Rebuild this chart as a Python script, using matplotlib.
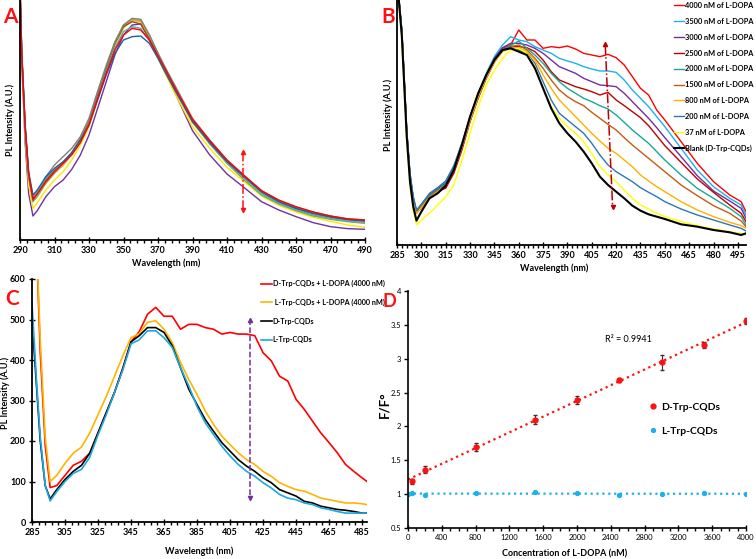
import numpy as np
import matplotlib
matplotlib.use("Agg")
import matplotlib.pyplot as plt
from matplotlib.ticker import MultipleLocator

plt.rcParams['font.family'] = ['Lato', 'DejaVu Sans']

# ---------------- Panel A: D-Trp-CQDs + interferents (arbitrary units) ----------------
wl_a = [290, 291, 293, 295, 297.5, 300, 305, 310, 315, 320, 325, 330, 335, 340, 345, 350,
        355, 360, 365, 370, 375, 380, 390, 400, 410, 420, 430, 440, 450, 460, 470, 480, 490]
a_purple = [760, 530, 290, 140, 72, 88, 130, 160, 180, 212, 255, 315, 395, 475, 555, 615,
            645, 648, 605, 550, 495, 440, 328, 255, 198, 157, 115, 90, 70, 52, 40, 34, 32]
a_yellow = [760, 540, 310, 165, 95, 112, 150, 180, 205, 240, 285, 340, 420, 505, 580, 635,
            660, 655, 600, 545, 490, 438, 340, 275, 218, 175, 132, 104, 84, 68, 56, 45, 38]
a_green = [760, 555, 330, 190, 115, 130, 170, 200, 225, 258, 305, 360, 445, 525, 595, 645,
           660, 660, 615, 560, 505, 455, 355, 288, 230, 180, 135, 108, 88, 72, 62, 55, 50]
a_orange = [760, 555, 330, 188, 125, 138, 175, 205, 225, 262, 305, 360, 440, 518, 588, 638,
            660, 655, 605, 552, 500, 450, 352, 290, 232, 186, 142, 112, 92, 78, 66, 58, 52]
a_brown = [760, 560, 335, 195, 125, 140, 180, 210, 232, 262, 300, 352, 435, 515, 590, 640,
           655, 648, 602, 552, 505, 455, 360, 295, 235, 188, 145, 116, 95, 80, 68, 60, 56]
a_gray = [760, 560, 335, 195, 118, 140, 190, 225, 250, 275, 310, 365, 445, 520, 590, 645,
          665, 662, 615, 560, 510, 462, 365, 300, 240, 193, 148, 118, 98, 84, 72, 64, 60]
a_teal = [760, 565, 340, 198, 130, 146, 185, 212, 232, 260, 298, 348, 428, 505, 575, 625,
          640, 635, 598, 548, 498, 450, 356, 290, 232, 186, 140, 110, 90, 75, 65, 57, 53]
a_blue = [760, 570, 345, 205, 135, 150, 190, 215, 235, 262, 300, 345, 420, 495, 560, 600,
          610, 612, 590, 545, 495, 448, 355, 292, 235, 190, 145, 115, 95, 80, 70, 62, 58]
a_red = [760, 560, 340, 200, 122, 138, 175, 205, 230, 255, 292, 345, 425, 500, 570, 615,
         635, 630, 600, 552, 505, 455, 362, 298, 240, 193, 148, 120, 100, 84, 72, 63, 60]
a_series = [a_purple, a_yellow, a_green, a_orange, a_brown, a_gray, a_teal, a_blue, a_red]
a_colors = ['#7030A0', '#FFE600', '#70AD47', '#F0A030', '#9E480E', '#7F7F7F', '#4BACC6',
            '#1F5F9F', '#FF0000']

# ---------------- Panel B: D-Trp-CQDs with L-DOPA ----------------
wl_b = [285, 288, 291, 293, 295, 297, 300, 305, 310, 315, 320, 325, 330, 335, 340, 345,
        350, 355, 360, 365, 370, 375, 380, 385, 390, 395, 400, 405, 410, 415, 420, 425,
        430, 435, 440, 445, 450, 460, 470, 480, 490, 497, 500]
b4000 = [800, 640, 340, 210, 140, 100, 118, 150, 165, 170, 220, 295, 380, 450, 510, 560,
         590, 600, 645, 615, 615, 590, 595, 592, 597, 588, 575, 570, 565, 572, 562, 540,
         505, 470, 450, 405, 375, 310, 245, 190, 150, 130, 100]
b3500 = [800, 645, 345, 215, 145, 105, 122, 152, 170, 190, 235, 305, 385, 455, 515, 565,
         600, 625, 615, 610, 595, 585, 575, 560, 552, 545, 535, 528, 522, 522, 518, 495,
         465, 440, 415, 385, 355, 290, 225, 175, 140, 120, 90]
b3000 = [800, 640, 340, 210, 140, 98, 118, 150, 168, 185, 230, 300, 380, 450, 510, 560,
         592, 605, 605, 600, 590, 575, 555, 535, 525, 515, 500, 490, 480, 478, 475, 455,
         430, 405, 380, 352, 322, 265, 208, 162, 132, 110, 80]
b2500 = [800, 635, 335, 205, 135, 95, 112, 140, 158, 172, 215, 285, 370, 440, 500, 548,
         585, 595, 595, 592, 580, 555, 520, 495, 485, 475, 468, 460, 450, 458, 435, 418,
         400, 382, 358, 328, 298, 248, 198, 158, 120, 95, 70]
b2000 = [800, 640, 340, 210, 140, 100, 118, 148, 165, 182, 228, 298, 378, 448, 508, 555,
         585, 598, 612, 590, 570, 545, 515, 490, 470, 455, 440, 430, 418, 408, 390, 368,
         345, 325, 305, 280, 255, 210, 170, 140, 110, 85, 60]
b1500 = [800, 635, 335, 205, 135, 97, 115, 145, 162, 178, 222, 292, 372, 442, 502, 550,
         582, 595, 600, 585, 560, 530, 495, 465, 445, 430, 418, 398, 380, 362, 345, 322,
         300, 280, 260, 240, 220, 180, 148, 118, 95, 72, 55]
b800 = [800, 630, 330, 200, 130, 95, 112, 142, 160, 178, 225, 295, 375, 445, 503, 548,
        580, 590, 592, 580, 555, 510, 470, 435, 410, 385, 360, 335, 312, 290, 275, 255,
        235, 210, 192, 175, 160, 130, 105, 85, 68, 58, 50]
b200 = [800, 645, 345, 215, 145, 103, 122, 155, 172, 192, 238, 305, 385, 452, 510, 555,
        585, 592, 585, 575, 545, 490, 435, 395, 375, 355, 335, 305, 270, 240, 220, 205,
        190, 172, 158, 145, 130, 108, 90, 75, 60, 50, 42]
b37 = [800, 620, 315, 180, 105, 60, 75, 95, 120, 145, 180, 255, 335, 415, 480, 525,
       560, 585, 590, 575, 535, 470, 415, 380, 355, 335, 310, 275, 235, 210, 190, 165,
       140, 120, 108, 95, 85, 70, 58, 48, 40, 35, 30]
b_blank = [800, 625, 325, 190, 115, 73, 100, 140, 155, 178, 225, 300, 385, 455, 510, 555,
           585, 590, 580, 570, 530, 470, 410, 365, 335, 310, 280, 245, 205, 180, 160, 140,
           118, 103, 92, 85, 78, 62, 55, 45, 38, 30, 35]
b_series = [b4000, b3500, b3000, b2500, b2000, b1500, b800, b200, b37, b_blank]
b_labels = ['4000 nM of L-DOPA', '3500 nM of L-DOPA', '3000 nM of L-DOPA',
            '2500 nM of L-DOPA', '2000 nM of L-DOPA', '1500 nM of L-DOPA',
            '800 nM of L-DOPA', '200 nM of L-DOPA', '37 nM of L-DOPA', 'Blank (D-Trp-CQDs)']
b_colors = ['#FF0000', '#1CB0EC', '#7030A0', '#C00000', '#17A89A', '#C55A11',
            '#FFB000', '#2E75B6', '#FFFF00', '#000000']

# ---------------- Panel C: D- vs L-Trp-CQDs ----------------
wl_c = [285, 288, 290, 293, 296, 300, 305, 310, 315, 320, 325, 330, 335, 340, 345, 350,
        355, 360, 365, 370, 375, 380, 385, 390, 395, 400, 405, 410, 415, 420, 425, 430,
        435, 440, 445, 450, 455, 460, 465, 470, 475, 480, 485, 488]
c_d_dopa = [900, 650, 420, 190, 85, 90, 115, 140, 150, 170, 220, 270, 320, 380, 445, 470,
            513, 530, 508, 508, 476, 488, 488, 480, 476, 464, 468, 464, 464, 460, 418, 398,
            360, 348, 303, 278, 249, 220, 196, 171, 142, 125, 109, 100]
c_l_dopa = [900, 660, 450, 210, 100, 115, 145, 170, 185, 220, 265, 310, 360, 410, 455, 465,
            493, 497, 476, 443, 394, 352, 315, 274, 241, 212, 191, 171, 154, 142, 125, 113,
            97, 88, 80, 76, 68, 59, 55, 51, 47, 47, 45, 43]
c_d = [500, 320, 200, 90, 57, 80, 105, 125, 140, 170, 220, 270, 320, 378, 445, 460,
       480, 480, 468, 435, 381, 328, 290, 253, 224, 196, 175, 154, 138, 125, 109, 97,
       80, 72, 64, 51, 47, 39, 35, 31, 29, 26, 22, 22]
c_l = [540, 330, 210, 90, 52, 75, 100, 120, 130, 160, 215, 265, 320, 375, 440, 450,
       472, 472, 455, 431, 381, 336, 285, 245, 216, 187, 163, 142, 125, 113, 97, 84,
       68, 59, 55, 47, 43, 35, 31, 26, 22, 22, 22, 22]
c_series = [c_d_dopa, c_l_dopa, c_d, c_l]
c_labels = ['D-Trp-CQDs + L-DOPA (4000 nM)', ' L-Trp-CQDs + L-DOPA (4000 nM)',
            'D-Trp-CQDs', 'L-Trp-CQDs']
c_colors = ['#FF0000', '#FFB400', '#000000', '#1CA8E0']

# ---------------- Panel D: calibration ----------------
conc_d = [50, 200, 800, 1500, 2000, 2500, 3000, 3500, 4000]
ratio_d = [1.19, 1.36, 1.70, 2.10, 2.39, 2.68, 2.95, 3.20, 3.56]
err_d = [0.04, 0.05, 0.06, 0.07, 0.06, 0.03, 0.11, 0.04, 0.04]
conc_l = [0, 50, 200, 800, 1500, 2000, 2500, 3000, 3500, 4000]
ratio_l = [1.00, 1.01, 0.99, 1.02, 1.03, 1.02, 0.99, 1.00, 1.01, 1.00]

W, H = 756, 559
fig = plt.figure(figsize=(W / 100, H / 100), dpi=100)


def px_axes(x0, y0, x1, y1):
    # axes from pixel box (top-left origin)
    return fig.add_axes([x0 / W, 1 - y1 / H, (x1 - x0) / W, (y1 - y0) / H])


def style_spectrum_axes(ax, start, stop, major, minor, labelsize=6.5):
    for s in ['top', 'right']:
        ax.spines[s].set_visible(False)
    for s in ['left', 'bottom']:
        ax.spines[s].set_linewidth(1.3)
    ax.set_xticks(np.arange(start, stop + 1, major))
    ax.set_xticks(np.arange(start, stop + 1, minor), minor=True)
    ax.tick_params(axis='x', which='major', direction='inout', length=5, width=1,
                   labelsize=labelsize, pad=2)
    ax.tick_params(axis='x', which='minor', direction='out', length=2, width=1)
    for t in ax.get_xticklabels():
        t.set_fontweight('bold')


RED = '#FF1010'
label_font = dict(fontsize=6.5, fontweight='bold')

# Panel A
ax_a = px_axes(20, 0, 365, 240)
for ys, c in zip(a_series, a_colors):
    ax_a.plot(wl_a, ys, color=c, lw=1.0)
ax_a.set_xlim(290, 490)
ax_a.set_ylim(0, 720)
ax_a.set_yticks([])
style_spectrum_axes(ax_a, 290, 490, 20, 4)
ax_a.plot([419, 419], [90, 262], ls='-.', color=RED, lw=1.1)
ax_a.plot(419, 265, marker='^', ms=3, color=RED)
ax_a.plot(419, 90, marker='v', ms=3, color=RED)
ax_a.set_xlabel('Wavelength (nm)', **label_font)
ax_a.xaxis.set_label_coords((166 - 20) / 345, -0.075)
ax_a.set_ylabel('PL Intensity (A.U.)', **label_font)
ax_a.yaxis.set_label_coords(-0.014, 0.5)

# Panel B
ax_b = px_axes(397, 0, 746, 245)
for ys, c, lab in zip(b_series, b_colors, b_labels):
    ax_b.plot(wl_b, ys, color=c, lw=1.5 if c == '#000000' else 1.0, label=lab)
ax_b.set_xlim(285, 500)
ax_b.set_ylim(0, 735)
ax_b.set_yticks([])
style_spectrum_axes(ax_b, 285, 495, 15, 3)
ax_b.plot([413.3, 417.8], [600, 118], ls='-.', color='#C00000', lw=1.1)
ax_b.plot(413.3, 603, marker='^', ms=3, color='#C00000')
ax_b.plot(417.8, 115, marker='v', ms=3, color='#C00000')
ax_b.set_xlabel('Wavelength (nm)', **label_font)
ax_b.xaxis.set_label_coords((554 - 397) / 349, -0.075)
ax_b.set_ylabel('PL Intensity (A.U.)', **label_font)
ax_b.yaxis.set_label_coords(-0.011, 0.53)
ax_b.legend(loc='upper left', bbox_to_anchor=(674 / W, 1 - 2 / H), bbox_transform=fig.transFigure,
            frameon=False, prop=dict(size=5.3, weight='bold'), handlelength=1.4,
            handletextpad=0.1, labelspacing=1.2, borderpad=0, borderaxespad=0)

# Panel C
ax_c = px_axes(32, 279, 367, 522)
for ys, c, lab in zip(c_series, c_colors, c_labels):
    ax_c.plot(wl_c, ys, color=c, lw=1.2, label=lab)
ax_c.set_xlim(285, 488)
ax_c.set_ylim(0, 600)
style_spectrum_axes(ax_c, 285, 485, 20, 4)
ax_c.yaxis.set_major_locator(MultipleLocator(100))
ax_c.tick_params(axis='y', direction='inout', length=5, width=1, labelsize=6.5, pad=2)
for t in ax_c.get_yticklabels():
    t.set_fontweight('bold')
ax_c.plot([417, 417], [66, 494], ls='--', color='#7030A0', lw=1.1)
ax_c.plot(417, 498, marker='^', ms=3, color='#7030A0')
ax_c.plot(417, 60, marker='v', ms=3, color='#7030A0')
ax_c.set_xlabel('Wavelength (nm)', **label_font)
ax_c.xaxis.set_label_coords((199 - 32) / 335, -0.1)
ax_c.set_ylabel('PL Intensity (A.U.)', **label_font)
ax_c.yaxis.set_label_coords(-0.066, 0.53)
ax_c.legend(loc='upper left', bbox_to_anchor=(261 / W, 1 - 280 / H), bbox_transform=fig.transFigure,
            frameon=False, prop=dict(size=5.2, weight='bold'), handlelength=1.5,
            handletextpad=0.1, labelspacing=1.6, borderpad=0, borderaxespad=0)

# Panel D
ax_d = px_axes(408, 291, 746, 528)
fit_d = np.polyfit(conc_d, ratio_d, 1)
fit_l = np.polyfit(conc_l, ratio_l, 1)
xs = np.array([0, 4000])
ax_d.plot(xs, np.polyval(fit_d, xs), ls=':', color=RED, lw=1.6)
ax_d.plot(xs, np.polyval(fit_l, xs), ls=':', color='#1CB0EC', lw=1.6)
ax_d.errorbar(conc_d, ratio_d, yerr=err_d, fmt='none', ecolor='#333333', elinewidth=0.8,
              capsize=1.5)
ax_d.plot(conc_d, ratio_d, 'o', color=RED, ms=3.5, ls='none', label='D-Trp-CQDs')
ax_d.plot(conc_l, ratio_l, 'o', color='#1CB0EC', ms=2.8, ls='none', label='L-Trp-CQDs')
ax_d.set_xlim(0, 4000)
ax_d.set_ylim(0.5, 4)
for s in ['top', 'right']:
    ax_d.spines[s].set_visible(False)
for s in ['left', 'bottom']:
    ax_d.spines[s].set_linewidth(1.2)
ax_d.xaxis.set_major_locator(MultipleLocator(400))
ax_d.xaxis.set_minor_locator(MultipleLocator(100))
ax_d.set_yticks([0.5, 1, 1.5, 2, 2.5, 3, 3.5, 4])
ax_d.set_yticklabels(['0.5', '1', '1.5', '2', '2.5', '3', '3.5', '4'])
ax_d.tick_params(axis='x', which='major', direction='inout', length=5, width=1,
                 labelsize=5.5, pad=2)
ax_d.tick_params(axis='x', which='minor', direction='out', length=2, width=1)
ax_d.tick_params(axis='y', direction='out', length=3, width=1, labelsize=5.5, pad=2)
ax_d.text(2330, 3.29, 'R² = 0.9941', fontsize=6.5, va='center')
ax_d.set_xlabel('Concentration of L-DOPA (nM)', **label_font)
ax_d.xaxis.set_label_coords((565 - 408) / 338, -0.09)
ax_d.set_ylabel('F/F°', fontsize=9.5, fontweight='bold')
ax_d.yaxis.set_label_coords(-0.052, 0.52)
ax_d.legend(loc='upper left', bbox_to_anchor=(0.71, 0.53), frameon=False,
            prop=dict(size=7.5, weight='bold'), handlelength=1.0, handletextpad=0.3,
            labelspacing=1.45, borderpad=0, borderaxespad=0, numpoints=1)

# panel letters
for lx, ly, letter, fs in [(3, 23, 'A', 15), (381, 23, 'B', 15), (5, 305, 'C', 15),
                           (382, 307, 'D', 13)]:
    fig.text(lx / W, 1 - ly / H, letter, color=RED, fontsize=fs, fontweight='bold',
             ha='left', va='baseline')

fig.savefig('out.png', dpi=100)
